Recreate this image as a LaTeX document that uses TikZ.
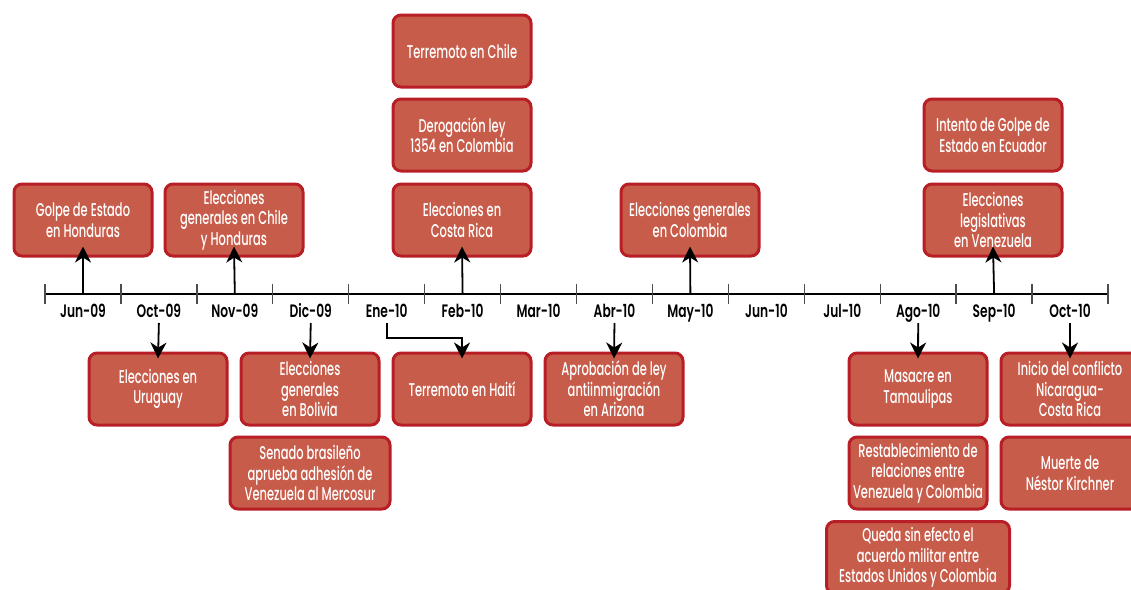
\documentclass[tikz,border=0pt]{standalone}
\usepackage{fontspec}
\setmainfont{Poppins Medium}[FakeStretch=0.62]
\newfontfamily\axisfont{Poppins SemiBold}[FakeStretch=0.68]
\usepackage{tikz}
\usetikzlibrary{arrows.meta}
\usetikzlibrary{positioning}
\definecolor{evfill}{RGB}{200,92,74}
\definecolor{evedge}{RGB}{184,30,38}
\tikzset{evbox/.style = {draw=evedge, line width=3pt, fill=evfill,
                         rounded corners=8pt, text=white, align=center,
                         minimum width=138pt, minimum height=72pt, inner sep=2pt,
                         font=\fontsize{18.5}{20.5}\selectfont},
         evarrow/.style = {-{Stealth[length=16pt, width=16pt, inset=5pt]},
                           line width=1.8pt},
         monthlabel/.style = {inner sep=3pt, anchor=base,
                              font=\axisfont\fontsize{18}{20}\selectfont}}

\begin{document}
\begin{tikzpicture}[x=1pt, y=-1pt]
      \useasboundingbox (0, 0) rectangle (1131, 589);

      % time axis
      \coordinate (axis) at (0, 294);
      \coordinate (labelfoot) at (0, 323);
      \draw [line width=2pt] (45, 294) -- (1108, 294);
      \foreach \i in {0,...,14}
        \draw [line width=1.4pt, black!70] (45+75.93*\i, 284) -- (45+75.93*\i, 304);
      \foreach \m [count=\i] in {Jun-09, Oct-09, Nov-09, Dic-09, Ene-10, Feb-10, Mar-10,
                                 Abr-10, May-10, Jun-10, Jul-10, Ago-10, Sep-10, Oct-10}
        \node [monthlabel] (m\i) at (45+75.93*\i-37.97, 317) {\m};

      % events above the axis
      \node [evbox] (golpe) at (83, 220) {Golpe de Estado\\en Honduras};
      \node [evbox] (eleccchile) at (234, 220) {Elecciones\\generales en Chile\\y Honduras};
      \node [evbox] (terrchile) at (462, 51) {Terremoto en Chile};
      \node [evbox] (derogacion) at (462, 135) {Derogación ley\\1354 en Colombia};
      \node [evbox] (costarica) at (462, 220) {Elecciones en\\Costa Rica};
      \node [evbox] (colombia) at (690, 220) {Elecciones generales\\en Colombia};
      \node [evbox] (ecuador) at (993, 135) {Intento de Golpe de\\Estado en Ecuador};
      \node [evbox] (venezuela) at (993, 220) {Elecciones\\legislativas\\en Venezuela};

      % events below the axis
      \node [evbox] (uruguay) at (158, 389) {Elecciones en\\Uruguay};
      \node [evbox] (bolivia) at (310, 389) {Elecciones\\generales\\en Bolivia};
      \node [evbox, minimum width=160pt] (senado) at (310, 473)
            {Senado brasileño\\aprueba adhesión de\\Venezuela al Mercosur};
      \node [evbox] (haiti) at (462, 389) {Terremoto en Haití};
      \node [evbox] (arizona) at (614, 389) {Aprobación de ley\\antiinmigración\\en Arizona};
      \node [evbox] (tamaulipas) at (918, 389) {Masacre en\\Tamaulipas};
      \node [evbox] (relaciones) at (918, 473)
            {Restablecimiento de\\relaciones entre\\Venezuela y Colombia};
      \node [evbox, minimum width=183pt] (acuerdo) at (918, 557.5)
            {Queda sin efecto el\\acuerdo militar entre\\Estados Unidos y Colombia};
      \node [evbox] (nicaragua) at (1070, 389) {Inicio del conflicto\\Nicaragua-\\Costa Rica};
      \node [evbox] (kirchner) at (1070, 473) {Muerte de\\Néstor Kirchner};

      % arrows
      \draw [evarrow] (m1 |- axis) -- ([yshift=11pt]golpe.south);
      \draw [evarrow] (m3 |- axis) -- ([yshift=11pt]eleccchile.south);
      \draw [evarrow] (m6 |- axis) -- ([yshift=11pt]costarica.south);
      \draw [evarrow] (m9 |- axis) -- ([yshift=11pt]colombia.south);
      \draw [evarrow] (m13 |- axis) -- ([yshift=11pt]venezuela.south);

      \draw [evarrow] (m2 |- labelfoot) -- ([yshift=-7pt]uruguay.north);
      \draw [evarrow] (m4 |- labelfoot) -- ([yshift=-7pt]bolivia.north);
      \draw [evarrow] (m5 |- labelfoot) -- ++(0, 15) -| ([yshift=-7pt]haiti.north);
      \draw [evarrow] (m8 |- labelfoot) -- ([yshift=-7pt]arizona.north);
      \draw [evarrow] (m12 |- labelfoot) -- ([yshift=-7pt]tamaulipas.north);
      \draw [evarrow] (m14 |- labelfoot) -- ([yshift=-7pt]nicaragua.north);
\end{tikzpicture}
\end{document}
